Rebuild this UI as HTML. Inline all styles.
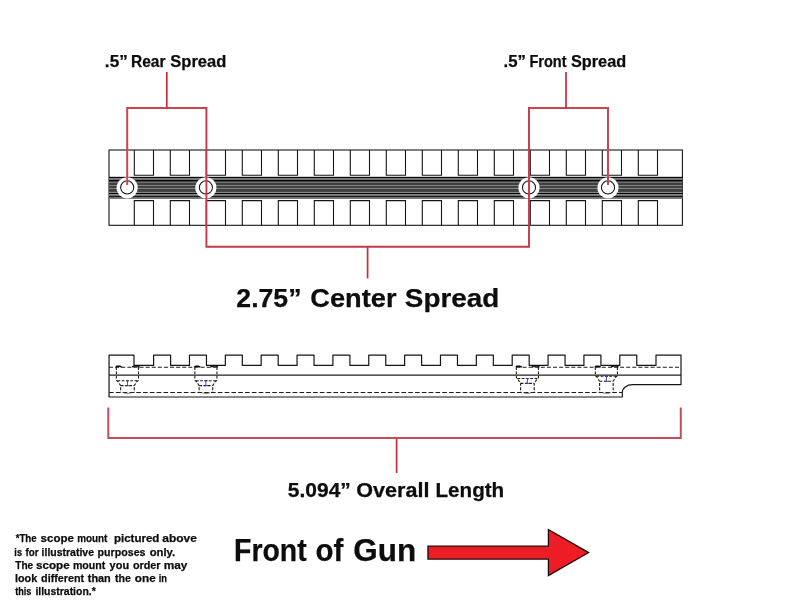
<!DOCTYPE html>
<html><head><meta charset="utf-8"><title>Scope mount dimensions</title>
<style>
html,body{margin:0;padding:0;background:#fff;}
body{width:792px;height:612px;overflow:hidden;font-family:"Liberation Sans",sans-serif;}
svg{display:block;will-change:transform;}
text{font-family:"Liberation Sans",sans-serif;font-weight:bold;fill:#0d0d0d;stroke:#0d0d0d;stroke-width:0.25;}
</style></head><body>
<svg width="792" height="612" viewBox="0 0 792 612">
<rect width="792" height="612" fill="#ffffff"/>

<g id="topview" fill="none" stroke="#161616" stroke-width="1.1">
<rect x="109.0" y="150.0" width="573.40" height="75.30" fill="#fff"/>
<rect x="109.0" y="176.9" width="573.40" height="21.90" fill="#404040" stroke="none"/>
<rect x="109.0" y="176.9" width="573.40" height="1.1" fill="#050505" stroke="none"/>
<rect x="109.0" y="178.0" width="573.40" height="1.9" fill="#828282" stroke="none"/>
<rect x="109.0" y="179.9" width="573.40" height="1.2" fill="#050505" stroke="none"/>
<rect x="109.0" y="181.1" width="573.40" height="0.8" fill="#404040" stroke="none"/>
<rect x="109.0" y="181.9" width="573.40" height="1.0" fill="#7c7c7c" stroke="none"/>
<rect x="109.0" y="182.9" width="573.40" height="2.1" fill="#404040" stroke="none"/>
<rect x="109.0" y="185.0" width="573.40" height="1.0" fill="#828282" stroke="none"/>
<rect x="109.0" y="186.0" width="573.40" height="1.9" fill="#404040" stroke="none"/>
<rect x="109.0" y="187.9" width="573.40" height="1.1" fill="#828282" stroke="none"/>
<rect x="109.0" y="189.0" width="573.40" height="2.9" fill="#404040" stroke="none"/>
<rect x="109.0" y="191.9" width="573.40" height="1.1" fill="#868686" stroke="none"/>
<rect x="109.0" y="193.0" width="573.40" height="1.0" fill="#050505" stroke="none"/>
<rect x="109.0" y="194.0" width="573.40" height="1.9" fill="#858585" stroke="none"/>
<rect x="109.0" y="195.9" width="573.40" height="1.0" fill="#050505" stroke="none"/>
<rect x="109.0" y="196.9" width="573.40" height="0.9" fill="#828282" stroke="none"/>
<rect x="109.0" y="197.8" width="573.40" height="0.5" fill="#666666" stroke="none"/>
<rect x="109.0" y="198.3" width="573.40" height="0.6" fill="#8c8c8c" stroke="none"/>
<path d="M134.3 150.0V175.2H153.5V150.0"/>
<path d="M134.3 225.3V200.6H153.5V225.3"/>
<path d="M170.3 150.0V175.2H189.5V150.0"/>
<path d="M170.3 225.3V200.6H189.5V225.3"/>
<path d="M206.3 150.0V175.2H225.5V150.0"/>
<path d="M206.3 225.3V200.6H225.5V225.3"/>
<path d="M242.3 150.0V175.2H261.5V150.0"/>
<path d="M242.3 225.3V200.6H261.5V225.3"/>
<path d="M278.3 150.0V175.2H297.5V150.0"/>
<path d="M278.3 225.3V200.6H297.5V225.3"/>
<path d="M314.3 150.0V175.2H333.5V150.0"/>
<path d="M314.3 225.3V200.6H333.5V225.3"/>
<path d="M350.3 150.0V175.2H369.5V150.0"/>
<path d="M350.3 225.3V200.6H369.5V225.3"/>
<path d="M386.3 150.0V175.2H405.5V150.0"/>
<path d="M386.3 225.3V200.6H405.5V225.3"/>
<path d="M422.3 150.0V175.2H441.5V150.0"/>
<path d="M422.3 225.3V200.6H441.5V225.3"/>
<path d="M458.3 150.0V175.2H477.5V150.0"/>
<path d="M458.3 225.3V200.6H477.5V225.3"/>
<path d="M494.3 150.0V175.2H513.5V150.0"/>
<path d="M494.3 225.3V200.6H513.5V225.3"/>
<path d="M530.3 150.0V175.2H549.5V150.0"/>
<path d="M530.3 225.3V200.6H549.5V225.3"/>
<path d="M566.3 150.0V175.2H585.5V150.0"/>
<path d="M566.3 225.3V200.6H585.5V225.3"/>
<path d="M602.3 150.0V175.2H621.5V150.0"/>
<path d="M602.3 225.3V200.6H621.5V225.3"/>
<path d="M638.3 150.0V175.2H657.5V150.0"/>
<path d="M638.3 225.3V200.6H657.5V225.3"/>
<circle cx="127.2" cy="187.8" r="10.6" fill="#fff" stroke="none"/>
<circle cx="127.2" cy="187.4" r="6.55" fill="#fff" stroke="#111" stroke-width="1.05"/>
<circle cx="205.9" cy="187.8" r="10.6" fill="#fff" stroke="none"/>
<circle cx="205.9" cy="187.4" r="6.55" fill="#fff" stroke="#111" stroke-width="1.05"/>
<circle cx="529.0" cy="187.8" r="10.6" fill="#fff" stroke="none"/>
<circle cx="529.0" cy="187.4" r="6.55" fill="#fff" stroke="#111" stroke-width="1.05"/>
<circle cx="608.0" cy="187.8" r="10.6" fill="#fff" stroke="none"/>
<circle cx="608.0" cy="187.4" r="6.55" fill="#fff" stroke="#111" stroke-width="1.05"/>
</g>
<g id="sideview" fill="none" stroke="#161616" stroke-width="1.2" stroke-linejoin="round">
<path d="M109.05 397.0V355.05H134.0V365.4H153.6V355.05H170.6V365.4H189.46V355.05H206.46V365.4H225.32V355.05H242.32V365.4H261.18V355.05H278.18V365.4H297.04V355.05H314.04V365.4H332.9V355.05H349.9V365.4H368.76V355.05H385.76V365.4H404.62V355.05H421.62V365.4H440.48V355.05H457.48V365.4H476.34V355.05H493.34V365.4H512.2V355.05H529.2V365.4H548.06V355.05H565.06V365.4H583.92V355.05H600.92V365.4H619.78V355.05H636.78V365.4H656.0V355.05H681.0V384.7H632.5A10.2 7.6 0 0 0 622.3 392.3V397.0Z" fill="#fff"/>
<path d="M109.05 375.0H681.0" stroke="#202020" stroke-width="1.25"/>
<path d="M109.05 367.2H217M516.4 367.2H681.0" stroke="#1c1c1c" stroke-width="1.1" stroke-dasharray="4 2.1"/>
<path d="M109.05 392.5H622" stroke="#1c1c1c" stroke-width="1.1" stroke-dasharray="4.6 2.2"/>
<g stroke="#1c1c1c" stroke-width="1.1" stroke-dasharray="2.8 1.5">
<path d="M116.40 367.2V379.5Q116.40 380.7 117.80 381.3L120.65 385.6V392.5"/>
<path d="M138.50 367.2V379.5Q138.50 380.7 137.10 381.3L134.25 385.6V392.5"/>
<path d="M117.40 380.7H137.50"/>
<path d="M120.65 385.6H134.25"/>
<path d="M123.15 392.7Q127.45 394.6 131.75 392.7" stroke-dasharray="none" stroke-width="0.7" stroke="#555"/>
</g>
<path d="M127.45 380.7V385.6M125.35 385.6H129.55M125.85 380.7H129.05" stroke="#3a34b4" stroke-width="0.9"/>
<path d="M116.10 367.4L116.80 366.2H119.80L121.80 367.2M132.00 366.9L134.50 366.1H138.80V367.4" stroke="#0a0a0a" stroke-width="1.5" stroke-linejoin="round"/>
<g stroke="#1c1c1c" stroke-width="1.1" stroke-dasharray="2.8 1.5">
<path d="M194.85 367.2V379.5Q194.85 380.7 196.25 381.3L199.10 385.6V392.5"/>
<path d="M216.95 367.2V379.5Q216.95 380.7 215.55 381.3L212.70 385.6V392.5"/>
<path d="M195.85 380.7H215.95"/>
<path d="M199.10 385.6H212.70"/>
<path d="M201.60 392.7Q205.90 394.6 210.20 392.7" stroke-dasharray="none" stroke-width="0.7" stroke="#555"/>
</g>
<path d="M205.90 380.7V385.6M203.80 385.6H208.00M204.30 380.7H207.50" stroke="#3a34b4" stroke-width="0.9"/>
<path d="M194.55 367.4L195.25 366.2H198.25L200.25 367.2M210.45 366.9L212.95 366.1H217.25V367.4" stroke="#0a0a0a" stroke-width="1.5" stroke-linejoin="round"/>
<g stroke="#1c1c1c" stroke-width="1.1" stroke-dasharray="2.8 1.5">
<path d="M516.35 367.2V377.3Q516.35 378.5 517.75 379.1L520.60 383.4V392.5"/>
<path d="M538.45 367.2V377.3Q538.45 378.5 537.05 379.1L534.20 383.4V392.5"/>
<path d="M517.35 378.5H537.45"/>
<path d="M520.60 383.4H534.20"/>
<path d="M523.10 392.7Q527.40 394.6 531.70 392.7" stroke-dasharray="none" stroke-width="0.7" stroke="#555"/>
</g>
<path d="M527.40 378.5V383.4M525.30 383.4H529.50M525.80 378.5H529.00" stroke="#3a34b4" stroke-width="0.9"/>
<path d="M516.05 367.4L516.75 366.2H519.75L521.75 367.2M531.95 366.9L534.45 366.1H538.75V367.4" stroke="#0a0a0a" stroke-width="1.5" stroke-linejoin="round"/>
<g stroke="#1c1c1c" stroke-width="1.1" stroke-dasharray="2.8 1.5">
<path d="M595.35 367.2V375.0Q595.35 376.2 596.75 376.8L599.60 381.3V392.5"/>
<path d="M617.45 367.2V375.0Q617.45 376.2 616.05 376.8L613.20 381.3V392.5"/>
<path d="M596.35 376.2H616.45"/>
<path d="M599.60 381.3H613.20"/>
<path d="M602.10 392.7Q606.40 394.6 610.70 392.7" stroke-dasharray="none" stroke-width="0.7" stroke="#555"/>
</g>
<path d="M606.40 376.2V381.3M604.30 381.3H608.50M604.80 376.2H608.00" stroke="#3a34b4" stroke-width="0.9"/>
<path d="M595.05 367.4L595.75 366.2H598.75L600.75 367.2M610.95 366.9L613.45 366.1H617.75V367.4" stroke="#0a0a0a" stroke-width="1.5" stroke-linejoin="round"/>
</g>
<g id="dims" fill="none" stroke-linejoin="miter">
<path d="M127.2 185V108H206.4M529 108H608V185" stroke="#cb4650" stroke-width="2"/>
<path d="M206.4 107V246.7H529V107" stroke="#cc3646" stroke-width="1.9"/>
<path d="M166.8 72V108M566 72V108M367.6 246.7V278.5M396.6 438V473" stroke="#cc2a3a" stroke-width="1.7"/>
<path d="M108.3 407.5V438H680.8V407.5" stroke="#c84c58" stroke-width="2"/>
</g>
<path d="M427.95 546.15H548.4V529.5L588.6 552.6L548.4 575.6V559.1H427.95Z" fill="#ee1c25" stroke="#220909" stroke-width="1.3" stroke-linejoin="miter"/>
<text x="104.86" y="66.6" font-size="15.9" stroke-width="0.29" textLength="22.89" lengthAdjust="spacingAndGlyphs">.5&#8221;</text>
<text x="130.95" y="66.6" font-size="15.9" stroke-width="0.29" textLength="34.49" lengthAdjust="spacingAndGlyphs">Rear</text>
<text x="170.31" y="66.6" font-size="15.9" stroke-width="0.29" textLength="55.97" lengthAdjust="spacingAndGlyphs">Spread</text>
<text x="503.52" y="66.6" font-size="15.9" stroke-width="0.29" textLength="22.38" lengthAdjust="spacingAndGlyphs">.5&#8221;</text>
<text x="529.42" y="66.6" font-size="15.9" stroke-width="0.29" textLength="37.16" lengthAdjust="spacingAndGlyphs">Front</text>
<text x="570.97" y="66.6" font-size="15.9" stroke-width="0.29" textLength="55.21" lengthAdjust="spacingAndGlyphs">Spread</text>
<text x="236.33" y="306.7" font-size="26" stroke-width="0.78" textLength="65.11" lengthAdjust="spacingAndGlyphs">2.75&#8221;</text>
<text x="310.30" y="306.7" font-size="26" stroke-width="0.78" textLength="86.19" lengthAdjust="spacingAndGlyphs">Center</text>
<text x="404.83" y="306.7" font-size="26" stroke-width="0.78" textLength="94.33" lengthAdjust="spacingAndGlyphs">Spread</text>
<text x="287.84" y="496.5" font-size="20.3" stroke-width="0.37" textLength="62.98" lengthAdjust="spacingAndGlyphs">5.094&#8221;</text>
<text x="356.30" y="496.5" font-size="20.3" stroke-width="0.37" textLength="73.16" lengthAdjust="spacingAndGlyphs">Overall</text>
<text x="435.49" y="496.5" font-size="20.3" stroke-width="0.37" textLength="68.70" lengthAdjust="spacingAndGlyphs">Length</text>
<text x="234.04" y="561.2" font-size="30.8" stroke-width="0.92" textLength="72.57" lengthAdjust="spacingAndGlyphs">Front</text>
<text x="315.62" y="561.2" font-size="30.8" stroke-width="0.92" textLength="27.82" lengthAdjust="spacingAndGlyphs">of</text>
<text x="353.30" y="561.2" font-size="30.8" stroke-width="0.92" textLength="62.92" lengthAdjust="spacingAndGlyphs">Gun</text>
<text x="15.63" y="541.9" font-size="10.9" stroke-width="0.20" textLength="21.01" lengthAdjust="spacingAndGlyphs">*The</text>
<text x="40.63" y="541.9" font-size="10.9" stroke-width="0.20" textLength="33.25" lengthAdjust="spacingAndGlyphs">scope</text>
<text x="77.17" y="541.9" font-size="10.9" stroke-width="0.20" textLength="30.22" lengthAdjust="spacingAndGlyphs">mount</text>
<text x="113.93" y="541.9" font-size="10.9" stroke-width="0.20" textLength="45.47" lengthAdjust="spacingAndGlyphs">pictured</text>
<text x="162.29" y="541.9" font-size="10.9" stroke-width="0.20" textLength="34.56" lengthAdjust="spacingAndGlyphs">above</text>
<text x="14.36" y="555.5" font-size="10.9" stroke-width="0.20" textLength="7.70" lengthAdjust="spacingAndGlyphs">is</text>
<text x="25.44" y="555.5" font-size="10.9" stroke-width="0.20" textLength="13.07" lengthAdjust="spacingAndGlyphs">for</text>
<text x="41.57" y="555.5" font-size="10.9" stroke-width="0.20" textLength="52.43" lengthAdjust="spacingAndGlyphs">illustrative</text>
<text x="97.51" y="555.5" font-size="10.9" stroke-width="0.20" textLength="48.00" lengthAdjust="spacingAndGlyphs">purposes</text>
<text x="149.66" y="555.5" font-size="10.9" stroke-width="0.20" textLength="25.51" lengthAdjust="spacingAndGlyphs">only.</text>
<text x="15.31" y="568.8" font-size="10.9" stroke-width="0.20" textLength="17.84" lengthAdjust="spacingAndGlyphs">The</text>
<text x="35.91" y="568.8" font-size="10.9" stroke-width="0.20" textLength="33.79" lengthAdjust="spacingAndGlyphs">scope</text>
<text x="72.91" y="568.8" font-size="10.9" stroke-width="0.20" textLength="32.42" lengthAdjust="spacingAndGlyphs">mount</text>
<text x="109.64" y="568.8" font-size="10.9" stroke-width="0.20" textLength="19.53" lengthAdjust="spacingAndGlyphs">you</text>
<text x="132.89" y="568.8" font-size="10.9" stroke-width="0.20" textLength="27.69" lengthAdjust="spacingAndGlyphs">order</text>
<text x="163.77" y="568.8" font-size="10.9" stroke-width="0.20" textLength="23.64" lengthAdjust="spacingAndGlyphs">may</text>
<text x="14.88" y="581.8" font-size="10.9" stroke-width="0.20" textLength="22.30" lengthAdjust="spacingAndGlyphs">look</text>
<text x="41.08" y="581.8" font-size="10.9" stroke-width="0.20" textLength="43.01" lengthAdjust="spacingAndGlyphs">different</text>
<text x="87.78" y="581.8" font-size="10.9" stroke-width="0.20" textLength="22.96" lengthAdjust="spacingAndGlyphs">than</text>
<text x="114.92" y="581.8" font-size="10.9" stroke-width="0.20" textLength="15.92" lengthAdjust="spacingAndGlyphs">the</text>
<text x="134.87" y="581.8" font-size="10.9" stroke-width="0.20" textLength="20.88" lengthAdjust="spacingAndGlyphs">one</text>
<text x="158.77" y="581.8" font-size="10.9" stroke-width="0.20" textLength="8.28" lengthAdjust="spacingAndGlyphs">in</text>
<text x="15.29" y="594.8" font-size="10.9" stroke-width="0.20" textLength="16.13" lengthAdjust="spacingAndGlyphs">this</text>
<text x="35.41" y="594.8" font-size="10.9" stroke-width="0.20" textLength="60.32" lengthAdjust="spacingAndGlyphs">illustration.*</text>
</svg></body></html>
